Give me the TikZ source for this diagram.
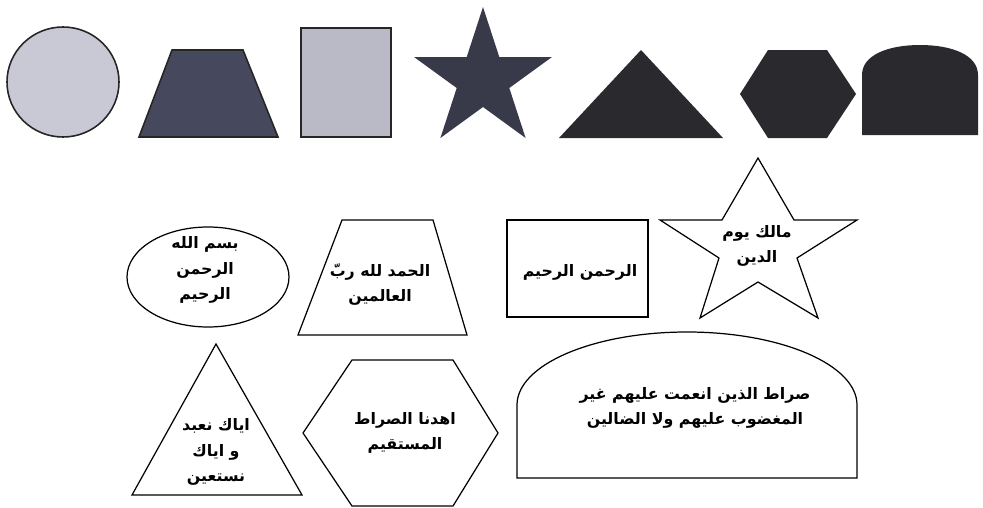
\documentclass[tikz,border=0pt]{standalone}
\usepackage{fontspec}
\usepackage{tikz}
\TeXXeTstate=1
\newfontfamily\arabicfont[Script=Arabic]{DejaVu Sans}
\newcommand{\ar}[1]{{\arabicfont\bfseries\beginR #1\endR}}
\definecolor{claro}{RGB}{200,201,213}
\definecolor{cinza}{RGB}{185,186,198}
\definecolor{azulescuro}{RGB}{70,73,94}
\definecolor{escuro}{RGB}{56,58,74}
\definecolor{preto}{RGB}{42,42,46}
\tikzset{
  borda/.style={draw=black!85, line width=0.9pt},
  contorno/.style={draw=black, line width=0.7pt, line join=miter},
  rotulo/.style={align=center, inner sep=0pt, font=\fontsize{9}{14.5}\selectfont}
}

\begin{document}
\begin{tikzpicture}[x=0.02cm,y=-0.02cm]
       \useasboundingbox (0,0) rectangle (983,507);

        % Formas preenchidas
        \filldraw[borda, fill=claro] (63,82) ellipse [x radius=56, y radius=55];
        \filldraw[borda, fill=azulescuro] (172,50) -- (243,50) -- (278,137) -- (139,137) -- cycle;
        \filldraw[borda, fill=cinza] (301,28) rectangle (391,137);
        \fill[escuro] (483,7) -- (499.3,57) -- (552,57) -- (509.3,88) -- (525.6,138)
            -- (483,107) -- (440.4,138) -- (456.7,88) -- (414,57) -- (466.7,57) -- cycle;
        \fill[preto] (641,50) -- (723,138) -- (559,138) -- cycle;
        \fill[preto] (768,50) -- (827,50) -- (856,94) -- (827,138) -- (768,138) -- (740,94) -- cycle;
        \fill[preto] (862,135) -- (862,75)
            .. controls (862,55) and (888,45) .. (920,45)
            .. controls (952,45) and (978,55) .. (978,75) -- (978,135) -- cycle;

        % Formas com texto
        \draw[contorno] (208,277) ellipse [x radius=81, y radius=50];
        \draw[contorno] (342,220) -- (433,220) -- (467,335) -- (298,335) -- cycle;
        \draw[contorno] (507,220) rectangle (648,317);
        \draw[contorno] (758,158) -- (794,220) -- (857,220) -- (797,258) -- (818,318)
            -- (758,282) -- (700,318) -- (719,258) -- (660,220) -- (722,220) -- cycle;
        \draw[contorno] (216,344) -- (302,495) -- (132,495) -- cycle;
        \draw[contorno] (352,360) -- (453,360) -- (498,433) -- (453,506) -- (352,506) -- (303,433) -- cycle;
        \draw[contorno] (517,478) -- (517,405)
            .. controls (517,364.7) and (593.1,332) .. (687,332)
            .. controls (780.9,332) and (857,364.7) .. (857,405) -- (857,478) -- cycle;

        % Textos
        \node[rotulo] (bismillah) at (205,270) {\ar{بسم الله}\\\ar{الرحمن}\\\ar{الرحيم}};
        \node[rotulo] (alhamd) at (380,285) {\ar{الحمد لله ربّ}\\\ar{العالمين}};
        \node[rotulo] (arrahman) at (580,272) {\ar{الرحمن الرحيم}};
        \node[rotulo] (malik) at (757,246) {\ar{مالك يوم}\\\ar{الدين}};
        \node[rotulo] (iyyaka) at (216,452) {\ar{اياك نعبد}\\\ar{و اياك}\\\ar{نستعين}};
        \node[rotulo] (ihdina) at (405,433) {\ar{اهدنا الصراط}\\\ar{المستقيم}};
        \node[rotulo] (sirat) at (695,408) {\ar{صراط الذين انعمت عليهم غير}\\\ar{المغضوب عليهم ولا الضالين}};
    \end{tikzpicture}
\end{document}
